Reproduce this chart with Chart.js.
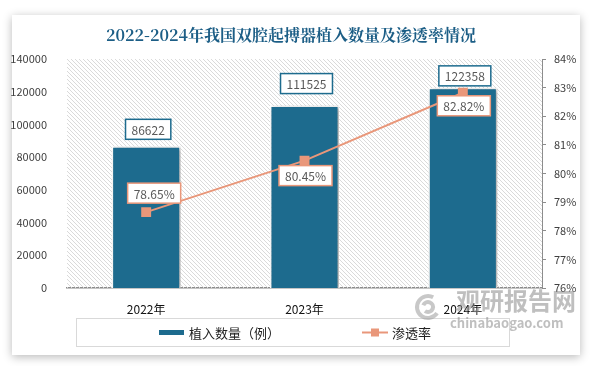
<!DOCTYPE html>
<html>
<head>
<meta charset="utf-8">
<script src="https://cdn.jsdelivr.net/npm/chart.js@4"></script>
<style>
  html, body { margin: 0; padding: 0; background: #fff; }
  #wrap { position: relative; width: 594px; height: 366px; overflow: hidden; }
  #card { position: absolute; left: 12px; top: 15px; width: 568px; height: 340px;
          background: #fff; box-shadow: 0 2px 9px rgba(0,0,0,0.28); }
  #c { position: absolute; left: 0; top: 0; }
</style>
</head>
<body>
<div id="wrap">
  <div id="card"></div>
  <canvas id="c" width="594" height="366"></canvas>
</div>
<script>
// chart data
const years = ['2022年', '2023年', '2024年'];
const implants = [86622, 111525, 122358];
const penetration = [78.65, 80.45, 82.82];
const leftTicks = [0, 20000, 40000, 60000, 80000, 100000, 120000, 140000];
const rightTicks = [76, 77, 78, 79, 80, 81, 82, 83, 84];

const title = '2022-2024年我国双腔起搏器植入数量及渗透率情况';
const barName = '植入数量（例）';
const lineName = '渗透率';

const BAR = '#1d6b8e';
const LINE = '#e9977a';
const FONT = '"Microsoft YaHei", "Noto Sans CJK SC", sans-serif';

// label nudges (px), picked to match the original placement
const barLabelGap = [7, 12, 2];
const lineLabelDy = [-19, 15, 13];
const lineLabelDx = [8, 1, 1];

function hatch(ctx) {
  const p = document.createElement('canvas');
  p.width = 4; p.height = 4;
  const g = p.getContext('2d');
  g.strokeStyle = '#dadada';
  g.lineWidth = 1;
  g.beginPath();
  g.moveTo(-1, -1); g.lineTo(5, 5);
  g.moveTo(-1, 3); g.lineTo(1, 5);
  g.moveTo(3, -1); g.lineTo(5, 1);
  g.stroke();
  return ctx.createPattern(p, 'repeat');
}

function box(ctx, text, cx, cy, border) {
  ctx.font = '12px ' + FONT;
  const w = ctx.measureText(text).width + 12;
  const h = 20;
  ctx.fillStyle = '#fff';
  ctx.fillRect(cx - w / 2, cy - h / 2, w, h);
  ctx.strokeStyle = border;
  ctx.lineWidth = 1.5;
  ctx.strokeRect(cx - w / 2, cy - h / 2, w, h);
  ctx.fillStyle = '#595959';
  ctx.textAlign = 'center';
  ctx.textBaseline = 'middle';
  ctx.fillText(text, cx, cy + 1);
}

const decor = {
  id: 'decor',
  beforeDatasetsDraw(chart) {
    const { ctx, chartArea: a } = chart;
    ctx.save();
    ctx.fillStyle = hatch(ctx);
    ctx.fillRect(a.left, a.top, a.right - a.left, a.bottom - a.top);
    ctx.restore();
  },
  beforeDatasetDraw(chart, args) {
    if (args.index === 0) {
      const ctx = chart.ctx;
      ctx.save();
      ctx.shadowColor = 'rgba(0,0,0,0.35)';
      ctx.shadowBlur = 4;
      ctx.shadowOffsetX = 2;
      ctx.shadowOffsetY = 1;
    }
  },
  afterDatasetDraw(chart, args) {
    if (args.index === 0) chart.ctx.restore();
  },
  afterDatasetsDraw(chart) {
    const ctx = chart.ctx;
    ctx.save();
    const bars = chart.getDatasetMeta(0).data;
    bars.forEach((b, i) => {
      box(ctx, String(implants[i]), b.x + 2, b.y - barLabelGap[i] - 10, BAR);
    });
    const pts = chart.getDatasetMeta(1).data;
    pts.forEach((p, i) => {
      box(ctx, penetration[i].toFixed(2) + '%', p.x + lineLabelDx[i], p.y + lineLabelDy[i], LINE);
    });
    ctx.restore();
  },
  afterDraw(chart) {
    const ctx = chart.ctx;
    ctx.save();
    // title
    ctx.font = 'bold 16px "Noto Serif CJK SC", "Noto Sans CJK SC", serif';
    ctx.fillStyle = '#1c5e86';
    ctx.textAlign = 'center';
    ctx.textBaseline = 'middle';
    ctx.fillText(title, 291, 35);

    // legend box
    ctx.strokeStyle = '#d9d9d9';
    ctx.lineWidth = 1;
    ctx.strokeRect(76.5, 318.5, 433, 28);
    ctx.fillStyle = BAR;
    ctx.fillRect(159, 330, 25, 5);
    ctx.strokeStyle = LINE;
    ctx.lineWidth = 2;
    ctx.beginPath(); ctx.moveTo(362, 332.5); ctx.lineTo(388, 332.5); ctx.stroke();
    ctx.fillStyle = LINE;
    ctx.fillRect(371, 328.5, 8, 8);
    ctx.fillStyle = '#222';
    ctx.font = '13px ' + FONT;
    ctx.textAlign = 'left';
    ctx.fillText(barName, 189, 333);
    ctx.fillText(lineName, 392, 333);

    // watermark
    ctx.globalAlpha = 0.55;
    ctx.strokeStyle = '#9a9a9a';
    ctx.lineWidth = 4;
    ctx.beginPath(); ctx.arc(428, 307, 11, 0.6, 5.2); ctx.stroke();
    ctx.beginPath(); ctx.arc(428, 307, 5, 3.5, 8.5); ctx.stroke();
    ctx.fillStyle = '#8a8a8a';
    ctx.font = 'bold 24px "Noto Sans CJK SC", sans-serif';
    ctx.textAlign = 'left';
    ctx.fillText('观研报告网', 456, 301);
    ctx.font = 'bold 13px ' + FONT;
    ctx.fillText('chinabaogao.com', 450, 323);
    ctx.restore();
  }
};

new Chart(document.getElementById('c'), {
  data: {
    labels: years,
    datasets: [
      {
        type: 'bar',
        label: barName,
        data: implants,
        backgroundColor: BAR,
        borderColor: '#fff',
        borderWidth: 1.5,
        categoryPercentage: 1,
        barPercentage: 0.436,
        yAxisID: 'y',
        order: 2
      },
      {
        type: 'line',
        label: lineName,
        data: penetration,
        borderColor: LINE,
        backgroundColor: LINE,
        borderWidth: 2,
        pointStyle: 'rect',
        pointRadius: 5.6,
        yAxisID: 'y1',
        order: 1
      }
    ]
  },
  options: {
    responsive: false,
    animation: false,
    layout: { padding: { left: 0, right: 14, top: 59, bottom: 48 } },
    plugins: { legend: { display: false }, tooltip: { enabled: false } },
    scales: {
      x: {
        offset: true,
        grid: { display: false },
        border: { color: '#8c8c8c', width: 1.5 },
        ticks: { color: '#111', font: { size: 12, family: FONT }, padding: 6 },
        afterFit: s => { s.height = 30; }
      },
      y: {
        position: 'left',
        min: 0, max: 140000,
        afterBuildTicks: s => { s.ticks = leftTicks.map(v => ({ value: v })); },
        grid: { display: false },
        border: { display: false },
        ticks: { color: '#404040', font: { size: 11, family: FONT }, padding: 12,
                 callback: v => String(v) },
        afterFit: s => { s.width = 67; }
      },
      y1: {
        position: 'right',
        min: 76, max: 84,
        afterBuildTicks: s => { s.ticks = rightTicks.map(v => ({ value: v })); },
        grid: { drawOnChartArea: false, drawTicks: true, tickLength: 4, color: '#8c8c8c' },
        border: { color: '#8c8c8c', width: 1 },
        ticks: { color: '#404040', font: { size: 11, family: FONT }, padding: 8,
                 callback: v => v + '%' },
        afterFit: s => { s.width = 38; }
      }
    }
  },
  plugins: [decor]
});
</script>
</body>
</html>
